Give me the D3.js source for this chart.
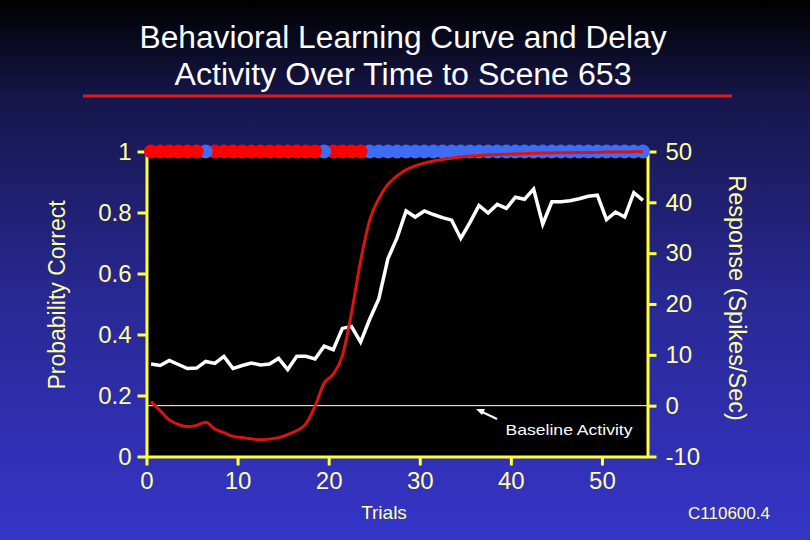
<!DOCTYPE html>
<html>
<head>
<meta charset="utf-8">
<script src="https://cdn.jsdelivr.net/npm/d3@7"></script>
<style>
  html, body { margin: 0; padding: 0; background: #000; }
  svg { display: block; font-family: "Liberation Sans", Arial, sans-serif; }
</style>
</head>
<body>
<div id="container"></div>
<script>
// trial slots (each trial drawn at the middle of its bin)
const trials = d3.range(55).map(i => i + 0.5);

// 1 = correct (blue dot), 0 = incorrect (red dot)
const outcome = [0,0,0,0,0,0,1,0,0,0,0,0,0,0,0,0,0,0,0,1,0,0,0,0,
                 1,1,1,1,1,1,1,1,1,1,1,1,1,1,1,1,1,1,1,1,1,1,1,1,1,1,1,1,1,1,1];

// behavioral learning curve (probability correct)
const probCorrect = [0.18,0.15,0.12,0.105,0.098,0.102,0.112,0.090,0.078,0.066,
                     0.062,0.058,0.055,0.057,0.062,0.072,0.085,0.107,0.165,0.24,
                     0.27,0.33,0.47,0.64,0.775,0.845,0.892,0.92,0.94,0.953,
                     0.962,0.969,0.974,0.978,0.982,0.985,0.987,0.989,0.990,0.991,
                     0.992,0.993,0.994,0.995,0.995,0.996,0.996,0.997,0.997,0.997,
                     0.998,0.998,0.998,0.999,0.999];

// delay activity (spikes/sec)
const response = [8.2,7.9,8.9,8.1,7.3,7.4,8.7,8.3,9.7,7.3,
                  7.9,8.4,8.0,8.2,9.3,7.1,9.7,9.7,9.2,11.7,
                  11.0,15.2,15.6,12.5,17.0,21.0,28.9,33.0,38.3,37.1,
                  38.3,37.6,37.0,36.5,32.9,36.0,39.4,37.9,39.6,38.8,
                  41.0,40.6,42.6,35.7,40.1,40.1,40.3,40.7,41.2,41.4,
                  36.6,38.1,37.1,41.9,40.4];

const baseline = 0;

const xTicks = [0, 10, 20, 30, 40, 50];
const probTicks = [0, 0.2, 0.4, 0.6, 0.8, 1];
const rateTicks = [-10, 0, 10, 20, 30, 40, 50];

const width = 810, height = 540;
const axisColor = '#ffff3a';
const labelColor = '#ffffa0';

const svg = d3.select('#container')
  .append('svg')
  .attr('width', width)
  .attr('height', height);

// background gradient
const grad = svg.append('defs').append('linearGradient')
  .attr('id', 'bg').attr('x1', 0).attr('y1', 0).attr('x2', 0).attr('y2', 1);
grad.append('stop').attr('offset', '0%').attr('stop-color', '#000000');
grad.append('stop').attr('offset', '18%').attr('stop-color', '#16164a');
grad.append('stop').attr('offset', '55%').attr('stop-color', '#282894');
grad.append('stop').attr('offset', '100%').attr('stop-color', '#3535c8');
svg.append('rect').attr('width', width).attr('height', height).attr('fill', 'url(#bg)');

// scales
const x = d3.scaleLinear().domain([0, 55]).range([146.5, 647.5]);
const yProb = d3.scaleLinear().domain([0, 1]).range([456.5, 151.5]);
const yRate = d3.scaleLinear().domain([-10, 50]).range([456.5, 151.5]);

// title
const title = svg.append('g').attr('fill', '#ffffff').attr('text-anchor', 'middle')
  .style('font-size', '31px');
title.append('text').attr('x', 403).attr('y', 48)
  .attr('textLength', 527).attr('lengthAdjust', 'spacingAndGlyphs')
  .text('Behavioral Learning Curve and Delay');
title.append('text').attr('x', 403).attr('y', 85)
  .attr('textLength', 457).attr('lengthAdjust', 'spacingAndGlyphs')
  .text('Activity Over Time to Scene 653');
svg.append('line')
  .attr('x1', 83).attr('x2', 732).attr('y1', 96).attr('y2', 96)
  .attr('stroke', '#e01818').attr('stroke-width', 3);

// plot area
svg.append('rect')
  .attr('x', x(0)).attr('y', yProb(1))
  .attr('width', x(55) - x(0)).attr('height', yProb(0) - yProb(1))
  .attr('fill', '#000000');

// baseline activity
svg.append('line')
  .attr('x1', x(0)).attr('x2', x(55))
  .attr('y1', yRate(baseline)).attr('y2', yRate(baseline))
  .attr('stroke', '#ffffff').attr('stroke-width', 1);

// axes
function styleAxis(g) {
  g.select('.domain').attr('stroke', axisColor).attr('stroke-width', 3);
  g.selectAll('.tick line').attr('stroke', axisColor).attr('stroke-width', 3);
  g.selectAll('.tick text').attr('fill', labelColor)
    .style('font-size', '24px').style('font-family', '"Liberation Sans", Arial, sans-serif');
}

svg.append('g')
  .attr('transform', `translate(${x(0)},0)`)
  .call(d3.axisLeft(yProb).tickValues(probTicks).tickFormat(d => d === 0 || d === 1 ? d : d3.format('.1f')(d))
    .tickSize(9).tickSizeOuter(0).tickPadding(6))
  .call(styleAxis);

svg.append('g')
  .attr('transform', `translate(${x(55)},0)`)
  .call(d3.axisRight(yRate).tickValues(rateTicks).tickFormat(d => String(d))
    .tickSize(9).tickSizeOuter(0).tickPadding(9))
  .call(styleAxis);

svg.append('g')
  .attr('transform', `translate(0,${yProb(0)})`)
  .call(d3.axisBottom(x).tickValues(xTicks).tickSize(9).tickSizeOuter(0).tickPadding(6))
  .call(styleAxis);

// trial outcome dots (drawn right to left so earlier trials sit on top)
const dotData = trials.map((t, i) => ({ t, c: outcome[i] })).reverse();
svg.append('g')
  .selectAll('circle')
  .data(dotData)
  .enter()
  .append('circle')
  .attr('cx', d => x(d.t))
  .attr('cy', yProb(1))
  .attr('r', 7)
  .attr('fill', d => d.c ? '#3d6df2' : '#ff0000');

// delay activity line
const rateLine = d3.line()
  .x((d, i) => x(trials[i]))
  .y(d => yRate(d));
svg.append('path')
  .datum(response)
  .attr('d', rateLine)
  .attr('fill', 'none')
  .attr('stroke', '#ffffff')
  .attr('stroke-width', 3.5)
  .attr('stroke-linejoin', 'miter');

// learning curve
const probLine = d3.line()
  .x((d, i) => x(trials[i]))
  .y(d => yProb(d))
  .curve(d3.curveMonotoneX);
svg.append('path')
  .datum(probCorrect)
  .attr('d', probLine)
  .attr('fill', 'none')
  .attr('stroke', '#dd1212')
  .attr('stroke-width', 3);

// baseline annotation
svg.append('line')
  .attr('x1', 497).attr('y1', 419).attr('x2', 480).attr('y2', 411)
  .attr('stroke', '#ffffff').attr('stroke-width', 2);
svg.append('path')
  .attr('d', 'M476,409 L485,409 L482,415 Z')
  .attr('fill', '#ffffff');
svg.append('text')
  .attr('x', 569).attr('y', 435)
  .attr('text-anchor', 'middle')
  .attr('fill', '#ffffff')
  .style('font-size', '15px')
  .attr('textLength', 127).attr('lengthAdjust', 'spacingAndGlyphs')
  .text('Baseline Activity');

// axis titles
svg.append('text')
  .attr('transform', 'translate(65,295) rotate(-90)')
  .attr('text-anchor', 'middle')
  .attr('fill', labelColor)
  .style('font-size', '23px')
  .text('Probability Correct');

svg.append('text')
  .attr('transform', 'translate(729,298) rotate(90)')
  .attr('text-anchor', 'middle')
  .attr('fill', labelColor)
  .style('font-size', '23.5px')
  .text('Response (Spikes/Sec)');

svg.append('text')
  .attr('x', 384).attr('y', 519)
  .attr('text-anchor', 'middle')
  .attr('fill', labelColor)
  .style('font-size', '19px')
  .text('Trials');

svg.append('text')
  .attr('x', 729).attr('y', 519)
  .attr('text-anchor', 'middle')
  .attr('fill', labelColor)
  .style('font-size', '17px')
  .text('C110600.4');
</script>
</body>
</html>
